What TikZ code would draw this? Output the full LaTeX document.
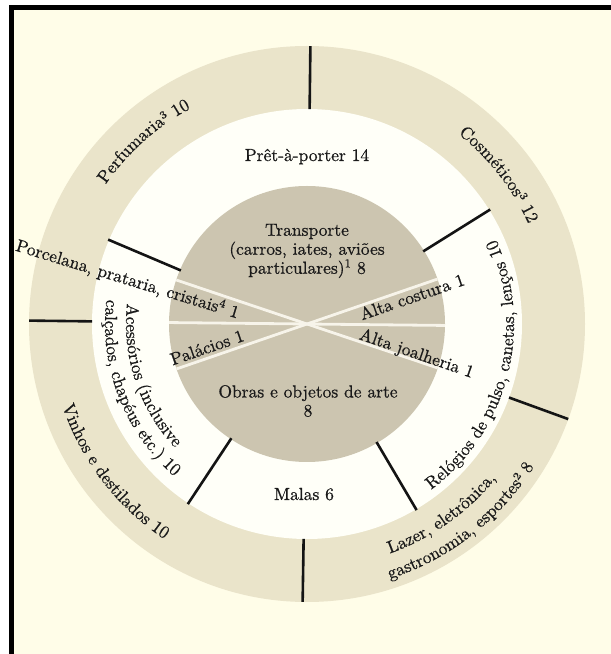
\documentclass[tikz,border=0pt]{standalone}
\usepackage{fontspec}
\setmainfont{lmroman10-regular.otf}[RawFeature={embolden=0.7}]
\usetikzlibrary{decorations.text,calc}
\definecolor{bgc}{HTML}{FFFDE8}
\definecolor{ringc}{HTML}{EAE4CA}
\definecolor{whitec}{HTML}{FFFFF8}
\definecolor{diskc}{HTML}{CCC5B0}
\definecolor{linec}{HTML}{F7F4EA}
\definecolor{txtc}{HTML}{1A1A1A}
\newcommand{\labfont}{\fontsize{17.5}{19}\selectfont}
\tikzset{
  lbl/.style={font=\labfont, text=txtc, inner sep=0pt},
  divider/.style={line width=2.6pt, draw=black!92},
  diskline/.style={line width=2.8pt, draw=linec},
  arctext/.style={decorate, decoration={text along path, text={|\labfont\color{txtc}|#1}, text align=center}},
  arctextL/.style={decorate, decoration={text along path, text={|\labfont\color{txtc}|#1}, text align=left}},
}
\begin{document}
\begin{tikzpicture}[x=1pt,y=1pt]
\useasboundingbox (0,0) rectangle (611,654);
% background and frame
\fill[white] (0,0) rectangle (611,654);
\fill[bgc] (14,0) rectangle (611,644);
\fill[black] (9,0) rectangle (14,649);
\fill[black] (9,644) rectangle (611,649);
% rings
\coordinate (C) at (307,330);
\fill[ringc] (C) circle[radius=278];
\fill[whitec] (C) circle[radius=215];
\fill[diskc] (C) circle[radius=138];
% white lines in disk
\draw[diskline] ($(C)+(-0.6:138)$) -- ($(C)+(179.4:138)$);
\draw[diskline] ($(C)+(19:138)$) -- ($(C)+(199:138)$);
\draw[diskline] ($(C)+(-18.6:138)$) -- ($(C)+(161.4:138)$);
% inner ring dividers
\foreach \a in {32,157,236.5,300.5}
  \draw[divider] ($(C)+(\a:137)$) -- ($(C)+(\a:216)$);
% outer ring dividers
\foreach \a in {89.3,179.3,269.1,-20}
  \draw[divider] ($(C)+(\a:215)$) -- ($(C)+(\a:278)$);
% disk labels
\node[lbl, align=center] (transp) at (307,403) {Transporte\\(carros, iates, aviões\\particulares)\textsuperscript{1} 8};
\node[lbl, align=center] (obras) at (308,253) {Obras e objetos de arte\\8};
\node[lbl, anchor=base, rotate=19] (altacost) at (414,351.5) {Alta costura 1};
\node[lbl, anchor=base, rotate=-19] (altajoal) at (415,295.5) {Alta joalheria 1};
\node[lbl, anchor=base, rotate=19] (palacios) at (209,301) {Palácios 1};
\node[lbl, anchor=base, rotate=-17] (porcel) at (126,369.5) {Porcelana, prataria, cristais\textsuperscript{4} 1};
% white ring labels
\node[lbl, anchor=base] (pret) at (307,493) {Prêt-à-porter 14};
\node[lbl, anchor=base] (malas) at (304,154) {Malas 6};
\path[arctext={Relógios de pulso, canetas, lenços 10}] ($(C)+(-74.5:207)$) arc[start angle=-74.5, end angle=45.5, radius=207];
\path[arctextL={Acessórios (inclusive}] ($(C)+(173.5:181)$) arc[start angle=173.5, end angle=265, radius=181];
\path[arctextL={calçados, chapéus etc.) 10}] ($(C)+(173:202)$) arc[start angle=173, end angle=265, radius=202];
% outer ring labels
\path[arctext={Perfumaria³ 10}] ($(C)+(191.8:245)$) arc[start angle=191.8, end angle=71.8, radius=245];
\path[arctext={Cosméticos³ 12}] ($(C)+(97.9:243)$) arc[start angle=97.9, end angle=-22.1, radius=243];
\path[arctext={Vinhos e destilados 10}] ($(C)+(157.5:258)$) arc[start angle=157.5, end angle=277.5, radius=258];
\path[arctext={Lazer, eletrônica,}] ($(C)+(245.3:244)$) arc[start angle=245.3, end angle=365.3, radius=244];
\path[arctext={gastronomia, esportes² 8}] ($(C)+(247.9:268)$) arc[start angle=247.9, end angle=367.9, radius=268];
\end{tikzpicture}
\end{document}
